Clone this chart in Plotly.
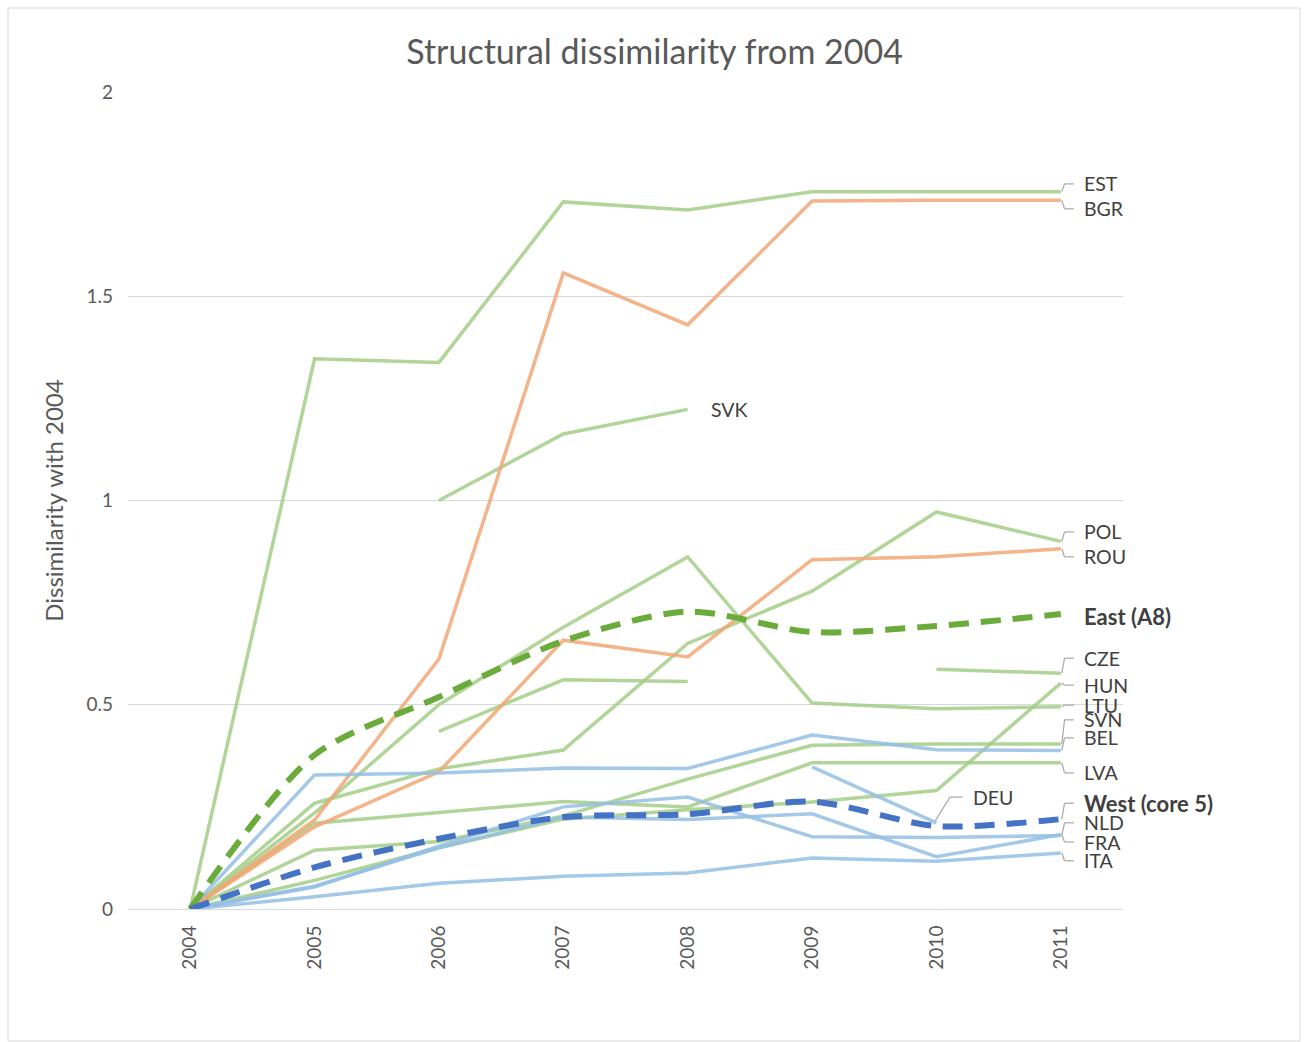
import plotly.graph_objects as go

years = ['2004', '2005', '2006', '2007', '2008', '2009', '2010', '2011']

EST = [0, 1.347, 1.338, 1.731, 1.711, 1.756, 1.756, 1.756]
BGR = [0, 0.218, 0.612, 1.557, 1.430, 1.733, 1.735, 1.735]
SVK = [None, None, 1.000, 1.163, 1.223, None, None, None]
POL = [0, 0.259, 0.343, 0.389, 0.650, 0.778, 0.972, 0.900]
ROU = [0, 0.201, 0.336, 0.658, 0.617, 0.855, 0.862, 0.882]
EAST_A8 = [0, 0.377, 0.519, 0.656, 0.728, 0.678, 0.693, 0.722]
CZE = [None, None, 0.435, 0.561, 0.557, None, 0.587, 0.577]
HUN = [0, 0.070, 0.150, 0.220, 0.243, 0.262, 0.290, 0.553]
LTU = [0, 0.235, 0.500, 0.690, 0.862, 0.504, 0.490, 0.495]
SVN = [0, 0.144, 0.165, 0.228, 0.318, 0.401, 0.404, 0.404]
BEL = [0, 0.328, 0.333, 0.345, 0.344, 0.426, 0.390, 0.388]
LVA = [0, 0.210, 0.236, 0.263, 0.250, 0.358, 0.358, 0.358]
WEST_CORE5 = [0, 0.102, 0.172, 0.225, 0.232, 0.263, 0.203, 0.220]
DEU = [None, None, None, None, None, 0.348, 0.211, None]
NLD = [0, 0.054, 0.154, 0.250, 0.274, 0.177, 0.175, 0.180]
FRA = [0, 0.056, 0.150, 0.225, 0.219, 0.233, 0.128, 0.182]
ITA = [0, 0.030, 0.063, 0.080, 0.088, 0.125, 0.117, 0.137]

GREEN = 'rgba(163,206,134,0.85)'
ORANGE = 'rgba(242,166,115,0.85)'
BLUE = 'rgba(148,190,228,0.85)'
DGREEN = '#6aab3c'
DBLUE = '#4472c4'
FONT = 'Lato'

thin = [
    ('EST', EST, GREEN), ('SVK', SVK, GREEN), ('POL', POL, GREEN),
    ('CZE', CZE, GREEN), ('HUN', HUN, GREEN), ('LTU', LTU, GREEN),
    ('SVN', SVN, GREEN), ('LVA', LVA, GREEN),
    ('BGR', BGR, ORANGE), ('ROU', ROU, ORANGE),
    ('BEL', BEL, BLUE), ('DEU', DEU, BLUE), ('NLD', NLD, BLUE),
    ('FRA', FRA, BLUE), ('ITA', ITA, BLUE),
]
dashed = [('East (A8)', EAST_A8, DGREEN), ('West (core 5)', WEST_CORE5, DBLUE)]

fig = go.Figure()
for name, vals, col in thin:
    fig.add_trace(go.Scatter(x=years, y=vals, mode='lines', name=name,
                             line=dict(color=col, width=3.5), connectgaps=False))
for name, vals, col in dashed:
    fig.add_trace(go.Scatter(x=years, y=vals, mode='lines', name=name,
                             line=dict(color=col, width=6, dash='20px,12px',
                                       shape='spline', smoothing=0.8)))

series = {'EST': EST, 'BGR': BGR, 'POL': POL, 'ROU': ROU, 'CZE': CZE, 'HUN': HUN,
          'LTU': LTU, 'SVN': SVN, 'BEL': BEL, 'LVA': LVA, 'West (core 5)': WEST_CORE5,
          'NLD': NLD, 'FRA': FRA, 'ITA': ITA, 'East (A8)': EAST_A8}

# label positions (layout only)
label_y = {'EST': 1.775, 'BGR': 1.714, 'POL': 0.923, 'ROU': 0.862,
           'East (A8)': 0.717, 'CZE': 0.614, 'HUN': 0.548, 'LTU': 0.499,
           'SVN': 0.463, 'BEL': 0.419, 'LVA': 0.333, 'West (core 5)': 0.259,
           'NLD': 0.211, 'FRA': 0.164, 'ITA': 0.118}
bold = {'East (A8)', 'West (core 5)'}
no_leader = {'East (A8)'}
last = len(years) - 1
LEAD = '#a6a6a6'
TXT = '#404040'
LSIZE = 19.5
BSIZE = 22

shapes = []
annotations = []
for name, ly in label_y.items():
    v = series[name][last]
    txt = f'<b>{name}</b>' if name in bold else name
    annotations.append(dict(x=last + 0.17, y=ly, xref='x', yref='y', text=txt,
                            showarrow=False, xanchor='left', yanchor='middle',
                            font=dict(family=FONT, size=BSIZE if name in bold else LSIZE,
                                      color=TXT)))
    if name not in no_leader:
        shapes.append(dict(type='line', xref='x', yref='y', x0=last + 0.008, y0=v,
                           x1=last + 0.03, y1=ly, line=dict(color=LEAD, width=1.2)))
        shapes.append(dict(type='line', xref='x', yref='y', x0=last + 0.03, y0=ly,
                           x1=last + 0.105, y1=ly, line=dict(color=LEAD, width=1.2)))

# SVK label (no leader)
annotations.append(dict(x=4.17, y=SVK[4], xref='x', yref='y', text='SVK', showarrow=False,
                        xanchor='left', yanchor='middle',
                        font=dict(family=FONT, size=LSIZE, color=TXT)))
# DEU label with leader
deu_ly = 0.274
shapes.append(dict(type='line', xref='x', yref='y', x0=6 - 0.01, y0=DEU[6] + 0.005,
                   x1=6 + 0.11, y1=deu_ly, line=dict(color=LEAD, width=1.2)))
shapes.append(dict(type='line', xref='x', yref='y', x0=6 + 0.11, y0=deu_ly,
                   x1=6 + 0.21, y1=deu_ly, line=dict(color=LEAD, width=1.2)))
annotations.append(dict(x=6 + 0.28, y=deu_ly, xref='x', yref='y', text='DEU', showarrow=False,
                        xanchor='left', yanchor='middle',
                        font=dict(family=FONT, size=LSIZE, color=TXT)))

# chart-area border
shapes.append(dict(type='rect', xref='paper', yref='paper', x0=-0.1206, x1=1.1779,
                   y0=-0.1616, y1=1.1028, line=dict(color='#d9d9d9', width=1),
                   fillcolor='rgba(0,0,0,0)', layer='below'))

fig.update_layout(
    width=1304, height=1042,
    margin=dict(l=128, r=181, t=92, b=133),
    paper_bgcolor='white', plot_bgcolor='white',
    showlegend=False,
    title=dict(text='Structural dissimilarity from 2004', x=0.502, xanchor='center',
               y=0.950, yanchor='middle',
               font=dict(family=FONT, size=34, color='#595959')),
    xaxis=dict(type='category', range=[-0.5, len(years) - 0.5], showgrid=False,
               showline=True, linecolor='#d9d9d9',
               linewidth=1, tickangle=-90, ticks='', ticklabelstandoff=8,
               tickfont=dict(family=FONT, size=19, color='#595959'),
               zeroline=False),
    yaxis=dict(range=[0, 2], dtick=0.5, showgrid=True, gridcolor='#d9d9d9', gridwidth=1,
               zeroline=False, showline=False, ticks='', ticklabelstandoff=14,
               tickfont=dict(family=FONT, size=19, color='#595959'),
               title=dict(text='Dissimilarity with 2004', standoff=16,
                          font=dict(family=FONT, size=24, color='#595959'))),
    shapes=shapes,
    annotations=annotations,
)

fig.write_html('out.html')
